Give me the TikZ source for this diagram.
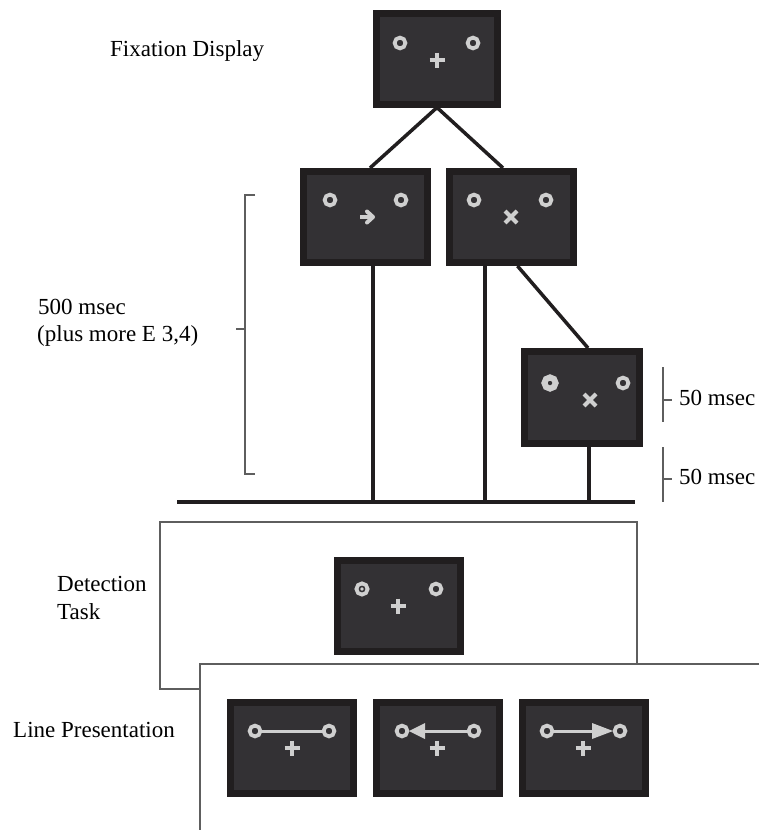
\documentclass[tikz,border=0pt]{standalone}
\usepackage{fontspec}
\setmainfont{Liberation Serif}
\usetikzlibrary{arrows.meta}
\definecolor{bezel}{HTML}{211E1F}
\definecolor{face}{HTML}{333134}
\definecolor{glyphc}{HTML}{CFCFCF}
\definecolor{framec}{HTML}{5E5E5E}
\tikzset{
  screen/.style={rectangle, fill=face, draw=bezel, line width=7pt, inner sep=0pt,
                 minimum width=123pt, minimum height=91pt},
  link/.style={draw=bezel, line width=3.5pt},
  panel/.style={draw=framec, line width=1.5pt},
  tick/.style={draw=framec, line width=2pt},
  label/.style={font=\fontsize{23}{28}\selectfont, anchor=base west, inner sep=0pt},
  glyph/.style={draw=glyphc, line width=4pt},
  ringp/.style={draw=glyphc, line width=3.8pt},
  ring/.pic={\draw[ringp] (0,0) circle (5.4);},
  boldring/.pic={\draw[draw=glyphc, line width=6pt] (0,0) circle (5.6);},
  dotring/.pic={\draw[ringp] (0,0) circle (5.6); \fill[glyphc] (0,0) circle (1.9);},
  plus/.pic={\draw[glyph] (-7.5,0) -- (7.5,0) (0,-7.5) -- (0,7.5);},
  cross/.pic={\draw[glyph, line width=4.2pt] (-6,-6) -- (6,6) (-6,6) -- (6,-6);},
  cuearrow/.pic={
    \draw[glyph, line width=4pt] (-7,0) -- (3,0);
    \draw[glyph, line width=4pt, line cap=round, line join=round] (0,-5.5) -- (6,0) -- (0,5.5);},
  shaft/.style={draw=glyphc, line width=3pt}
}
\begin{document}
\begin{tikzpicture}[x=1pt, y=-1pt]
  \fill[white] (0,0) rectangle (759,830);
  \useasboundingbox (0,0) rectangle (759,830);

  % task panels
  \draw[panel] (160,522) rectangle (637,689);
  \fill[white] (200,664) rectangle (760,831);
  \draw[panel] (200,831) -- (200,664) -- (760,664);

  % common time line
  \coordinate (baseW) at (177,502);
  \coordinate (baseE) at (635,502);

  % screens (placed first so the connectors can use their anchors)
  \node[screen, minimum width=121pt] (fix) at (437,58.5) {};
  \node[screen, minimum width=124pt] (cueA) at (365.5,217) {};
  \node[screen, minimum width=124pt] (cueX) at (511.5,217) {};
  \node[screen, minimum width=115pt, minimum height=92pt] (target) at (582,397.5) {};
  \node[screen] (detect) at (399,606) {};
  \node[screen] (lineA) at (292,748) {};
  \node[screen] (lineB) at (438,748) {};
  \node[screen] (lineC) at (584,748) {};

  % connectors
  \draw[link] (fix.south) -- ([xshift=4.5pt]cueA.north);
  \draw[link] (fix.south) -- ([xshift=-8.5pt]cueX.north);
  \draw[link] ([xshift=7.5pt]cueA.south) -- ([xshift=7.5pt]cueA.south |- baseW);
  \draw[link] ([xshift=-26.5pt]cueX.south) -- ([xshift=-26.5pt]cueX.south |- baseW);
  \draw[link] ([xshift=6pt]cueX.south) -- ([xshift=6pt]target.north);
  \draw[link] ([xshift=7pt]target.south) -- ([xshift=7pt]target.south |- baseW);
  \draw[draw=bezel, line width=4.5pt] (baseW) -- (baseE);

  % redraw the screens over the connector ends
  \node[screen, minimum width=121pt] at (fix) {};
  \node[screen, minimum width=124pt] at (cueA) {};
  \node[screen, minimum width=124pt] at (cueX) {};
  \node[screen, minimum width=115pt, minimum height=92pt] at (target) {};

  % fixation display
  \pic at (400,43) {ring};
  \pic at (473,43) {ring};
  \pic at (437,60) {plus};

  % arrow cue
  \pic at (330,200) {ring};
  \pic at (401,200) {ring};
  \pic at (367,217) {cuearrow};

  % neutral cue
  \pic at (474,200) {ring};
  \pic at (546,200) {ring};
  \pic at (511,217) {cross};

  % brightened marker
  \pic at (550,383) {boldring};
  \pic at (623,383) {ring};
  \pic at (590,400) {cross};

  % detection task
  \pic at (362,589) {dotring};
  \pic at (436,589) {ring};
  \pic at (398,606) {plus};

  % line presentation: plain line
  \draw[shaft] (260,731) -- (324,731);
  \pic at (255,731) {ring};
  \pic at (329,731) {ring};
  \pic at (292,748) {plus};

  % line presentation: motion to the left
  \draw[shaft] (424,731) -- (469,731);
  \fill[glyphc] (409,731) -- (425,723) -- (425,739) -- cycle;
  \pic at (402,731) {ring};
  \pic at (474,731) {ring};
  \pic at (437,748) {plus};

  % line presentation: motion to the right
  \draw[shaft] (552,731) -- (593,731);
  \fill[glyphc] (613,731) -- (592,723) -- (592,739) -- cycle;
  \pic at (547,731) {ring};
  \pic at (620,731) {ring};
  \pic at (583,748) {plus};

  % timing brackets
  \draw[tick] (255,195) -- (245,195) -- (245,474) -- (255,474);
  \draw[tick] (236,329) -- (245,329);
  \draw[tick] (663,367) -- (663,422);
  \draw[tick] (663,400) -- (672,400);
  \draw[tick] (663,447) -- (663,502);
  \draw[tick] (663,479) -- (672,479);

  % labels
  \node[label] (lfix) at (110,56) {Fixation Display};
  \node[label] (lcue) at (38,314) {500 msec};
  \node[label] (lcue2) at (37,341) {(plus more E 3,4)};
  \node[label] (lt1) at (679,405) {50 msec};
  \node[label] (lt2) at (679,484) {50 msec};
  \node[label] (ldet) at (57,591) {Detection};
  \node[label] (ldet2) at (57,619) {Task};
  \node[label] (lline) at (13,737) {Line Presentation};
\end{tikzpicture}
\end{document}
